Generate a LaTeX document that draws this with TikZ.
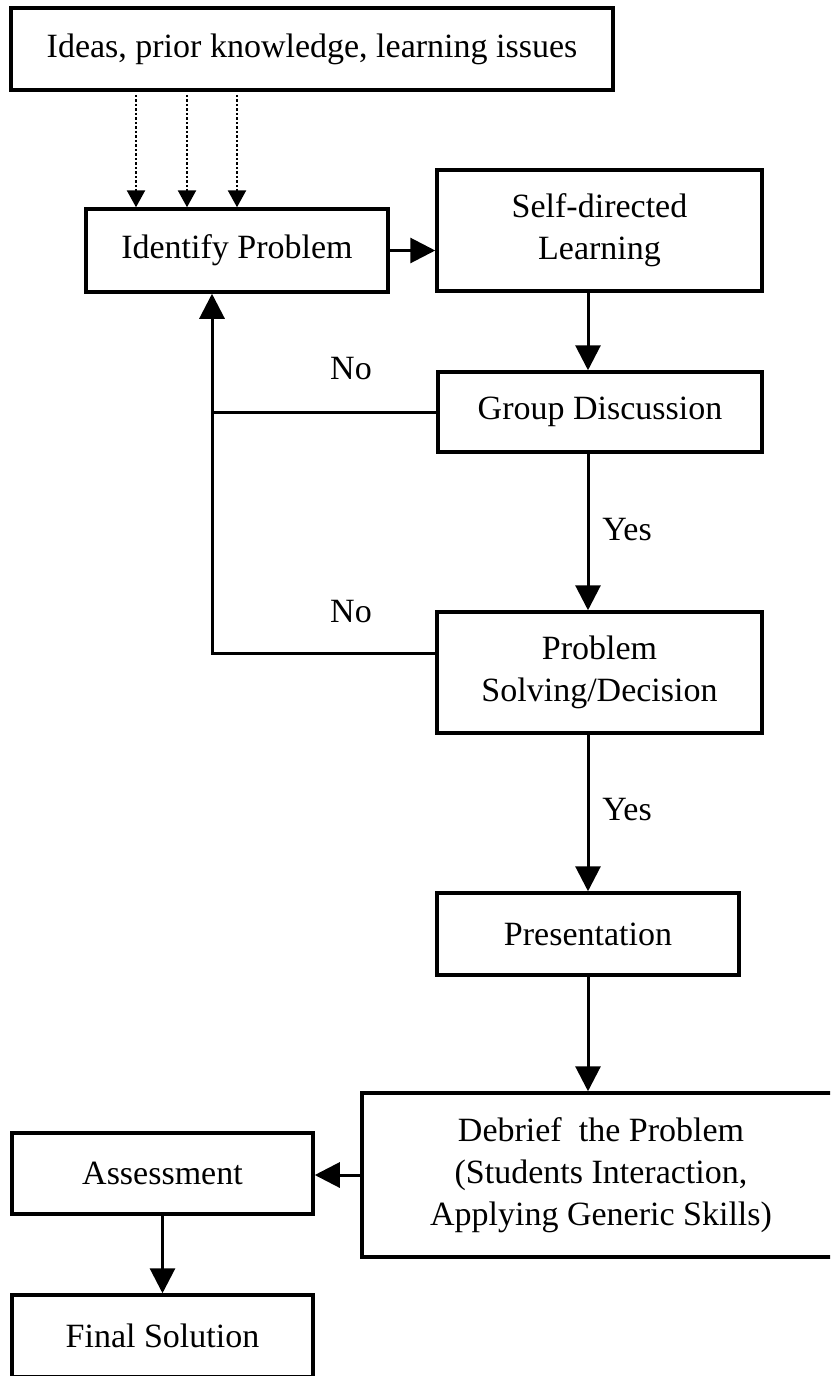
\documentclass[tikz,border=0pt]{standalone}
\usepackage{fontspec}
\setmainfont{Liberation Serif}
\usetikzlibrary{arrows.meta,calc}
\begin{document}
\begin{tikzpicture}[x=1pt,y=-1pt,
  box/.style={draw, line width=3.5pt, inner sep=0pt, align=center, font=\fontsize{34}{42}\selectfont},
  lbl/.style={inner sep=0pt, font=\fontsize{34}{42}\selectfont},
  arr/.style={line width=3pt, -{Triangle[length=25pt,width=25pt]}},
  dotarr/.style={line width=2.5pt, dash pattern=on 2.5pt off 2pt, -{Triangle[length=17pt,width=18pt]}},
  conn/.style={line width=3pt}]
\clip (0,0) rectangle (830,1376);
\fill[white] (0,0) rectangle (830,1376);
% nodes
\node[box, minimum width=602pt, minimum height=82pt] (top) at (312,49) {Ideas, prior knowledge, learning issues};
\node[box, minimum width=302pt, minimum height=83pt] (ident) at (237,250.5) {Identify Problem};
\node[box, minimum width=325pt, minimum height=121pt] (self) at (599.5,230.5) {Self-directed\\Learning};
\node[box, minimum width=324pt, minimum height=80pt] (group) at (600,412) {Group Discussion};
\node[box, minimum width=325pt, minimum height=121pt] (ps) at (599.5,672.5) {Problem\\Solving/Decision};
\node[box, minimum width=302pt, minimum height=82pt] (pres) at (588,934) {Presentation};
\node[box, minimum width=478pt, minimum height=164pt] (deb) at (601,1175) {Debrief\ \ the Problem\\(Students Interaction,\\Applying Generic Skills)};
\node[box, minimum width=301pt, minimum height=81pt] (assess) at (162.5,1173.5) {Assessment};
\node[box, minimum width=301pt, minimum height=82pt] (final) at (162.5,1336) {Final Solution};
% labels
\node[lbl] (no1) at (351,369) {No};
\node[lbl] (no2) at (351,612) {No};
\node[lbl] (yes1) at (627,530) {Yes};
\node[lbl] (yes2) at (627,810) {Yes};
% helper coordinates
\coordinate (d1) at (136,0);
\coordinate (d2) at (187,0);
\coordinate (d3) at (237,0);
\coordinate (colx) at (588,0);
\coordinate (loopx) at (212,0);
\coordinate (psno) at (212,653);
% dotted arrows
\draw[dotarr, shorten <=3pt] (top.south -| d1) -- (ident.north -| d1);
\draw[dotarr, shorten <=3pt] (top.south -| d2) -- (ident.north -| d2);
\draw[dotarr, shorten <=3pt] (top.south -| d3) -- (ident.north -| d3);
% main flow
\draw[arr] (ident.east) -- (ident.east -| self.west);
\draw[arr] (self.south -| colx) -- (group.north -| colx);
\draw[arr] (group.south -| colx) -- (ps.north -| colx);
\draw[arr] (ps.south -| colx) -- (pres.north -| colx);
\draw[arr] (pres.south -| colx) -- (deb.north -| colx);
\draw[arr] (deb.west) -- (deb.west -| assess.east);
\draw[arr] (assess.south) -- (final.north);
% loops back
\draw[conn] (group.west) -- (group.west -| loopx);
\draw[arr] (ps.west |- psno) -- (psno) -- (ident.south -| psno);
\end{tikzpicture}
\end{document}
